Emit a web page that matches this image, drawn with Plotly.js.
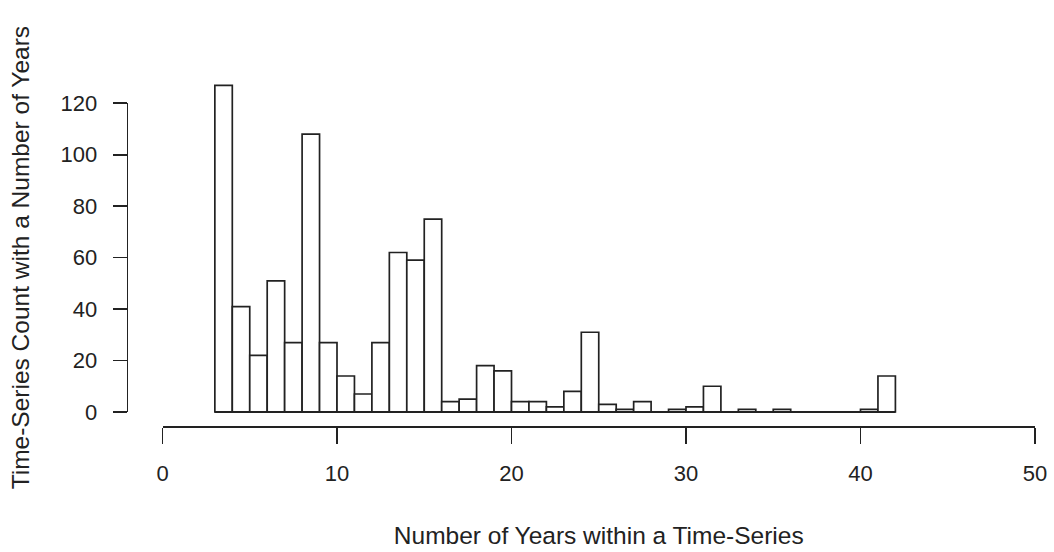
<!DOCTYPE html>
<html>
<head>
<meta charset="utf-8">
<script src="https://cdn.plot.ly/plotly-3.0.1.min.js"></script>
<style>
  html, body { margin: 0; padding: 0; background: #fff; }
  #chart { width: 1054px; height: 552px; }
</style>
</head>
<body>
<div id="chart"></div>
<script>
// Histogram bins (left edge of each one-year bin) and their counts
const binStarts = [3, 4, 5, 6, 7, 8, 9, 10, 11, 12, 13, 14, 15, 16, 17, 18, 19, 20, 21, 22,
                   23, 24, 25, 26, 27, 28, 29, 30, 31, 32, 33, 34, 35, 36, 37, 38, 39, 40, 41];
const counts    = [127, 41, 22, 51, 27, 108, 27, 14, 7, 27, 62, 59, 75, 4, 5, 18, 16, 4, 4, 2,
                   8, 31, 3, 1, 4, 0, 1, 2, 10, 0, 1, 0, 1, 0, 0, 0, 0, 1, 14];
const binWidth = 1;

const xTickVals = [0, 10, 20, 30, 40, 50];
const yTickVals = [0, 20, 40, 60, 80, 100, 120];
const xTitle = 'Number of Years within a Time-Series';
const yTitle = 'Time-Series Count with a Number of Years';

const ink = '#222';
const fontFamily = '"Liberation Sans", Arial, sans-serif';

// Page geometry (pixels)
const W = 1054, H = 552;
const margin = { l: 30, r: 19, t: 40, b: 126 };
const plotLeft = 162.5;          // x = 0
const plotBottom = H - margin.b; // x-axis line
const yZeroPx = 412;             // y = 0
const yTopTickPx = 103.3;        // y = 120
const yAxisPx = 126.7;           // left axis line

const paperW = W - margin.l - margin.r;
const paperH = H - margin.t - margin.b;
const pxPerUnit = (yZeroPx - yTopTickPx) / 120;
const yLow = -(plotBottom - yZeroPx) / pxPerUnit;
const yHigh = yLow + paperH / pxPerUnit;

const bars = {
  type: 'bar',
  x: binStarts.map(s => s + binWidth / 2),
  y: counts,
  width: binWidth,
  marker: { color: '#fff', line: { color: ink, width: 1.7 } },
  hoverinfo: 'x+y',
  xaxis: 'x', yaxis: 'y'
};

// Base line under the full extent of the bins (empty bins show as a flat line)
const baseLine = {
  type: 'scatter', mode: 'lines',
  x: [binStarts[0], binStarts[binStarts.length - 1] + binWidth],
  y: [0, 0],
  line: { color: ink, width: 1.9 },
  hoverinfo: 'skip',
  xaxis: 'x', yaxis: 'y'
};

// Carrier for the count axis, which spans only 0..120
const countAxisCarrier = {
  type: 'scatter', mode: 'markers', x: [], y: [],
  hoverinfo: 'skip', xaxis: 'x', yaxis: 'y2'
};

const layout = {
  width: W, height: H,
  margin: margin,
  paper_bgcolor: '#fff', plot_bgcolor: 'rgba(0,0,0,0)',
  showlegend: false,
  font: { family: fontFamily, size: 22, color: ink },
  xaxis: {
    domain: [(plotLeft - margin.l) / paperW, 1],
    range: [0, 50], autorange: false,
    tickvals: xTickVals,
    showline: true, linecolor: ink, linewidth: 1.7,
    ticks: 'outside', ticklen: 16, tickwidth: 1.7, tickcolor: ink,
    ticklabelstandoff: 11,
    showgrid: false, zeroline: false,
    title: { text: xTitle, font: { size: 24.5, family: fontFamily, color: ink }, standoff: 42 }
  },
  yaxis: {
    domain: [0, 1],
    range: [yLow, yHigh], autorange: false,
    visible: false
  },
  yaxis2: {
    domain: [(plotBottom - yZeroPx) / paperH, (plotBottom - yTopTickPx) / paperH],
    range: [0, 120], autorange: false,
    anchor: 'free', position: (yAxisPx - margin.l) / paperW, side: 'left',
    tickvals: yTickVals,
    showline: true, linecolor: ink, linewidth: 1.7,
    ticks: 'outside', ticklen: 14, tickwidth: 1.7, tickcolor: ink,
    ticklabelstandoff: 11,
    showgrid: false, zeroline: false,
    title: { text: yTitle, font: { size: 24.5, family: fontFamily, color: ink }, standoff: 22 }
  }
};

Plotly.newPlot('chart', [bars, baseLine, countAxisCarrier], layout, { displayModeBar: false, staticPlot: true });
</script>
</body>
</html>
